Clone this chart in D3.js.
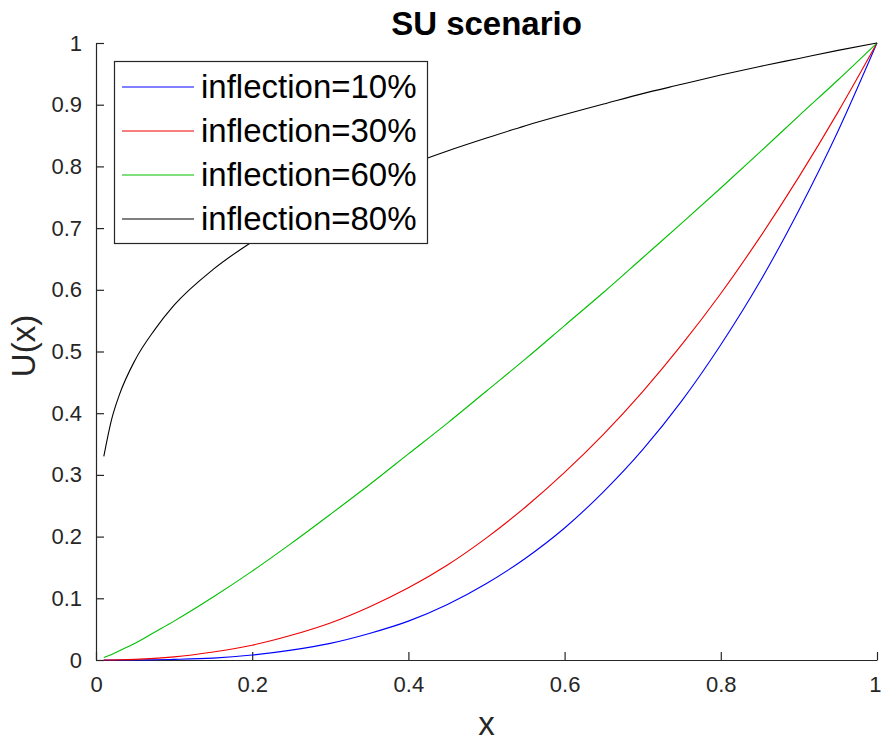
<!DOCTYPE html>
<html>
<head>
<meta charset="utf-8">
<script src="https://cdn.jsdelivr.net/npm/d3@7"></script>
<style>
  html, body { margin: 0; padding: 0; background: #ffffff; }
  svg { display: block; font-family: "Liberation Sans", Arial, Helvetica, sans-serif; }
</style>
</head>
<body>
<svg id="chart" width="881" height="742"></svg>
<script>
// Sample positions along x
const xs = [0.01, 0.02, 0.03, 0.05, 0.075, 0.1, 0.15, 0.2, 0.25, 0.3, 0.35, 0.4, 0.45, 0.5,
            0.55, 0.6, 0.65, 0.7, 0.75, 0.8, 0.85, 0.9, 0.95, 1.0];

// U(x) for each inflection level
const u10 = [0.000, 0.000, 0.000, 0.0001, 0.0004, 0.001, 0.003, 0.008, 0.016, 0.027, 0.043, 0.063, 0.090, 0.124,
             0.165, 0.214, 0.273, 0.341, 0.420, 0.511, 0.613, 0.729, 0.857, 1.000];
const u30 = [0.000, 0.0001, 0.0003, 0.001, 0.0026, 0.005, 0.013, 0.024, 0.040, 0.060, 0.086, 0.117, 0.154, 0.198,
             0.248, 0.304, 0.366, 0.435, 0.511, 0.594, 0.685, 0.783, 0.888, 1.000];
const u60 = [0.004, 0.009, 0.015, 0.027, 0.045, 0.063, 0.102, 0.144, 0.189, 0.236, 0.284, 0.334, 0.384, 0.436,
             0.488, 0.542, 0.596, 0.652, 0.708, 0.765, 0.823, 0.882, 0.940, 1.000];
const u80 = [0.330, 0.390, 0.430, 0.486, 0.535, 0.575, 0.633, 0.678, 0.716, 0.748, 0.776, 0.802, 0.825, 0.846,
             0.866, 0.884, 0.901, 0.918, 0.933, 0.948, 0.962, 0.975, 0.988, 1.000];

const seriesNames = ["inflection=10%", "inflection=30%", "inflection=60%", "inflection=80%"];
const seriesValues = [u10, u30, u60, u80];
const seriesColors = ["#0000ff", "#f00000", "#00c000", "#000000"];

const xTicks = [0, 0.2, 0.4, 0.6, 0.8, 1];
const yTicks = [0, 0.1, 0.2, 0.3, 0.4, 0.5, 0.6, 0.7, 0.8, 0.9, 1];

const svg = d3.select("#chart");
const axisColor = "#262626";

const x = d3.scaleLinear().domain([0, 1]).range([96, 877]);
const y = d3.scaleLinear().domain([0, 1]).range([660, 43]);

// Axes: ticks pointing inward, no surrounding box
const xAxis = d3.axisBottom(x).tickValues(xTicks).tickSizeInner(-8).tickSizeOuter(0)
  .tickPadding(16).tickFormat(d3.format("~g"));
const yAxis = d3.axisLeft(y).tickValues(yTicks).tickSizeInner(-8).tickSizeOuter(0)
  .tickPadding(14).tickFormat(d3.format("~g"));

const gx = svg.append("g").attr("transform", `translate(0,${y(0)})`).call(xAxis);
const gy = svg.append("g").attr("transform", `translate(${x(0)},0)`).call(yAxis);

[gx, gy].forEach(g => {
  g.select(".domain").attr("stroke", axisColor).attr("stroke-width", 1.2);
  g.selectAll(".tick line").attr("stroke", axisColor).attr("stroke-width", 1.2);
  g.selectAll(".tick text").attr("fill", axisColor)
    .style("font-size", "22px").style("font-family", "'Liberation Sans', Arial, sans-serif");
});
gx.selectAll(".tick text").attr("dy", "0.71em");
// keep the last x tick label inside the canvas
gx.selectAll(".tick").filter(d => d === 1).select("text").attr("text-anchor", "end").attr("dx", "4");

// Curves
const line = d3.line().x((d, i) => x(xs[i])).y(d => y(d)).curve(d3.curveMonotoneX);
svg.append("g").selectAll("path")
  .data(seriesValues)
  .join("path")
  .attr("d", d => line(d))
  .attr("fill", "none")
  .attr("stroke", (d, i) => seriesColors[i])
  .attr("stroke-width", 1.1);

// Title and axis labels
svg.append("text")
  .attr("x", 486.5).attr("y", 35)
  .attr("text-anchor", "middle")
  .style("font-size", "33px").style("font-weight", "bold")
  .attr("fill", "#000")
  .text("SU scenario");

svg.append("text")
  .attr("x", 486.5).attr("y", 735)
  .attr("text-anchor", "middle")
  .style("font-size", "33px")
  .attr("fill", axisColor)
  .text("x");

svg.append("text")
  .attr("transform", "translate(35,346) rotate(-90)")
  .attr("text-anchor", "middle")
  .style("font-size", "33px")
  .attr("fill", axisColor)
  .text("U(x)");

// Legend
const legend = svg.append("g");
legend.append("rect")
  .attr("x", 114.5).attr("y", 61.5)
  .attr("width", 313).attr("height", 182)
  .attr("fill", "#ffffff")
  .attr("stroke", axisColor).attr("stroke-width", 1.2);

const rowY = d3.scalePoint().domain(seriesNames).range([87, 219]);
const rows = legend.selectAll("g.row").data(seriesNames).join("g")
  .attr("class", "row")
  .attr("transform", d => `translate(0,${rowY(d)})`);
rows.append("line")
  .attr("x1", 122).attr("x2", 194).attr("y1", 0).attr("y2", 0)
  .attr("stroke", (d, i) => seriesColors[i]).attr("stroke-width", 1.2);
rows.append("text")
  .attr("x", 201).attr("y", 11)
  .style("font-size", "33px")
  .attr("fill", "#000")
  .text(d => d);
</script>
</body>
</html>
